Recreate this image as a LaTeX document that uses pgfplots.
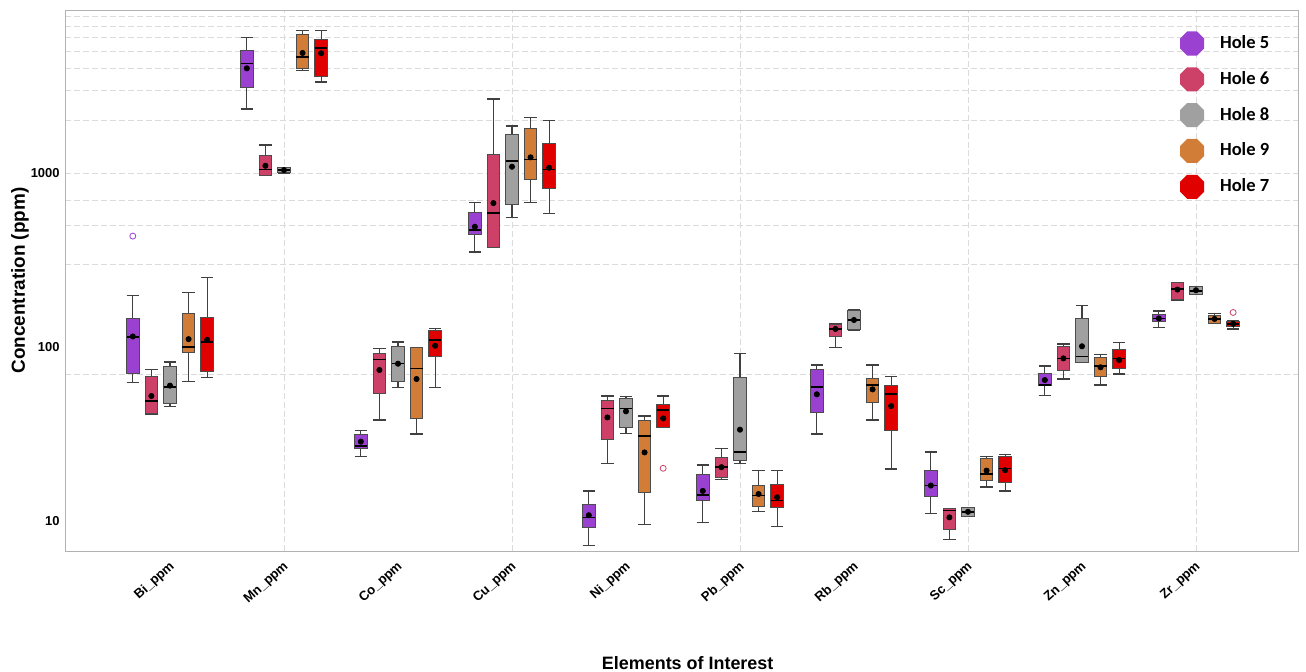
\documentclass[border=0pt]{standalone}
\usepackage{pgfplots}
\pgfplotsset{compat=1.18}
\usepackage{fontspec}
\setmainfont{Liberation Sans}
\newfontfamily\carlito{Carlito}

\definecolor{c5}{RGB}{155,65,210}
\definecolor{c6}{RGB}{205,65,105}
\definecolor{c8}{RGB}{160,160,160}
\definecolor{c9}{RGB}{210,125,55}
\definecolor{c7}{RGB}{225,0,0}

\pgfdeclareplotmark{octagon}{%
  \pgfpathmoveto{\pgfpointpolar{22.5}{\pgfplotmarksize}}%
  \pgfpathlineto{\pgfpointpolar{67.5}{\pgfplotmarksize}}%
  \pgfpathlineto{\pgfpointpolar{112.5}{\pgfplotmarksize}}%
  \pgfpathlineto{\pgfpointpolar{157.5}{\pgfplotmarksize}}%
  \pgfpathlineto{\pgfpointpolar{202.5}{\pgfplotmarksize}}%
  \pgfpathlineto{\pgfpointpolar{247.5}{\pgfplotmarksize}}%
  \pgfpathlineto{\pgfpointpolar{292.5}{\pgfplotmarksize}}%
  \pgfpathlineto{\pgfpointpolar{337.5}{\pgfplotmarksize}}%
  \pgfpathclose
  \pgfusepathqfill
}

\pgfplotsset{
  octlegend/.style={legend image code/.code={\draw[#1] plot coordinates {(0bp,0bp)};}},
  whisk/.style={forget plot, draw=black!75, line width=0.6pt, mark=none},
}

% #1 colour, #2 position, #3 lower whisker, #4 lower quartile, #5 median, #6 upper quartile, #7 upper whisker, #8 mean
\newcommand{\BX}[8]{%
  \pgfmathsetmacro\xl{#2-0.055}\pgfmathsetmacro\xr{#2+0.055}%
  \addplot[whisk] coordinates {(#2,#3) (#2,#4)};
  \addplot[whisk] coordinates {(#2,#6) (#2,#7)};
  \addplot[whisk] coordinates {(\xl,#3) (\xr,#3)};
  \addplot[whisk] coordinates {(\xl,#7) (\xr,#7)};
  \addplot[forget plot, mark=none, fill=#1, draw=black!70, line width=0.5pt] coordinates {(\xl,#4) (\xr,#4) (\xr,#6) (\xl,#6)} -- cycle;
  \addplot[forget plot, mark=none, draw=black, line width=0.8pt] coordinates {(\xl,#5) (\xr,#5)};
  \addplot[forget plot, only marks, mark=*, mark size=1.3bp, draw=black, fill=black] coordinates {(#2,#8)};
}

\begin{document}
\begin{tikzpicture}
\begin{axis}[
  width=616.5bp, height=270.5bp, scale only axis,
  xmin=-0.921, xmax=9.895, ymin=6.727, ymax=8648,
  ymode=log,
  ytick={10,100,1000}, yticklabels={10,100,1000},
  xtick={0,1,2,3,4,5,6,7,8,9},
  xticklabels={Bi\_ppm,Mn\_ppm,Co\_ppm,Cu\_ppm,Ni\_ppm,Pb\_ppm,Rb\_ppm,Sc\_ppm,Zn\_ppm,Zr\_ppm},
  minor xtick={1,3,5,7,9}, xminorgrids=true,
  minor ytick={70,300,500,700,1000,2000,3000,4000,5000,6000,7000,8000}, yminorgrids=true,
  minor grid style={black!14, dash pattern=on 3pt off 1.5pt, line width=0.35pt},
  major tick length=0pt, minor tick length=0pt,
  axis line style={black!30},
  yticklabel style={font=\bfseries\fontsize{6.5}{7}\selectfont, inner sep=0pt, xshift=-2.5bp},
  xticklabel style={font=\bfseries\fontsize{6.6}{8}\selectfont, rotate=42, anchor=east, inner sep=0pt, xshift=-3.5bp, yshift=-6bp},
  ylabel={Concentration (ppm)},
  xlabel={Elements of Interest},
  ylabel style={font=\bfseries\fontsize{9.5}{11}\selectfont, at={(axis description cs:-0.0365,0.5)}, anchor=center},
  xlabel style={font=\bfseries\fontsize{9}{11}\selectfont, at={(axis description cs:0.505,-0.207)}, anchor=center},
  legend style={at={(0.904,0.961)}, anchor=north west, draw=none, fill=none, inner sep=0pt, row sep=5.9bp,
    font=\carlito\bfseries\fontsize{9.3}{11}\selectfont,
    /tikz/every odd column/.append style={column sep=6bp}},
  legend cell align=left,
  clip=false,
]
\coordinate (SW) at (rel axis cs:0,0);
\coordinate (NE) at (rel axis cs:1,1);

\addlegendimage{octlegend, only marks, mark=octagon, mark size=6.5bp, fill=c5, draw=c5}
\addlegendentry{Hole 5}
\addlegendimage{octlegend, only marks, mark=octagon, mark size=6.5bp, fill=c6, draw=c6}
\addlegendentry{Hole 6}
\addlegendimage{octlegend, only marks, mark=octagon, mark size=6.5bp, fill=c8, draw=c8}
\addlegendentry{Hole 8}
\addlegendimage{octlegend, only marks, mark=octagon, mark size=6.5bp, fill=c9, draw=c9}
\addlegendentry{Hole 9}
\addlegendimage{octlegend, only marks, mark=octagon, mark size=6.5bp, fill=c7, draw=c7}
\addlegendentry{Hole 7}

% Bi
\BX{c5}{-0.326}{62.4}{70}{114}{145}{198}{115}
\BX{c6}{-0.163}{41.1}{41.6}{49.1}{68.1}{74.4}{52.3}
\BX{c8}{0}{45.4}{47.2}{59.1}{77.1}{82}{60}
\BX{c9}{0.163}{63.5}{93.6}{100.4}{156}{205}{111}
\BX{c7}{0.326}{67}{72.5}{107}{148}{251}{110}
% Mn
\BX{c5}{0.674}{2333}{3092}{4270}{5093}{6025}{3996}
\BX{c6}{0.837}{970}{974}{1050}{1268}{1449}{1101}
\BX{c8}{1}{1000}{1009}{1040}{1072}{1080}{1040}
\BX{c9}{1.163}{3872}{3996}{4660}{6268}{6576}{4897}
\BX{c7}{1.326}{3334}{3608}{5250}{5890}{6576}{4880}
% Co
\BX{c5}{1.674}{23.6}{26}{27}{31.6}{33.2}{28.6}
\BX{c6}{1.837}{38.1}{54.2}{85}{92}{98.3}{73.8}
\BX{c8}{2}{58.4}{63.2}{80.6}{100.4}{107}{80.2}
\BX{c9}{2.163}{31.6}{38.6}{75.4}{99.4}{99.6}{65.5}
\BX{c7}{2.326}{58.4}{88}{110}{124}{128}{101.7}
% Cu
\BX{c5}{2.674}{352}{446}{470}{597}{675}{491}
\BX{c6}{2.837}{374}{374}{587}{1286}{2662}{672}
\BX{c8}{3}{556}{663}{1177}{1675}{1862}{1087}
\BX{c9}{3.163}{675}{912}{1199}{1797}{2078}{1231}
\BX{c7}{3.326}{587}{812}{1050}{1482}{1999}{1072}
% Ni
\BX{c5}{3.674}{7.2}{9.15}{10.5}{12.4}{14.9}{10.8}
\BX{c6}{3.837}{21.5}{29.5}{44.4}{49.1}{52.3}{39.4}
\BX{c8}{4}{31.9}{34.4}{44.4}{50.7}{51.8}{42.7}
\BX{c9}{4.163}{9.6}{14.6}{30.8}{37.7}{40.1}{24.8}
\BX{c7}{4.326}{34.4}{34.4}{43.4}{47}{52.3}{38.9}
% Pb
\BX{c5}{4.674}{9.8}{13.2}{14.1}{18.6}{21}{14.9}
\BX{c6}{4.837}{17.4}{17.7}{20.5}{23.2}{26.2}{20.4}
\BX{c8}{5}{21.5}{22.2}{25}{67}{91.5}{33.5}
\BX{c9}{5.163}{11.4}{12.1}{14}{15.96}{19.6}{14.3}
\BX{c7}{5.326}{9.3}{12}{13.1}{16.3}{19.6}{13.7}
% Rb
\BX{c5}{5.674}{31.6}{41.9}{59.1}{73.8}{78.8}{53.5}
\BX{c6}{5.837}{99.1}{114.6}{127}{135.6}{137}{127}
\BX{c8}{6}{125}{126}{143}{163}{164}{143}
\BX{c9}{6.163}{38.1}{47.9}{60.5}{66.1}{78.8}{57.1}
\BX{c7}{6.326}{19.9}{33}{53.7}{60.5}{67.5}{45.8}
% Sc
\BX{c5}{6.674}{11.0}{13.9}{16.0}{19.4}{24.9}{16.0}
\BX{c6}{6.837}{7.85}{9.0}{11.5}{11.8}{11.8}{10.5}
\BX{c8}{7}{10.6}{10.6}{11.3}{12}{12}{11.3}
\BX{c9}{7.163}{15.7}{17.0}{18.6}{22.9}{23.6}{19.5}
\BX{c7}{7.326}{14.9}{16.6}{20}{23.4}{24.2}{19.6}
% Zn
\BX{c5}{7.674}{52.5}{60}{60.5}{70.6}{77.8}{64.6}
\BX{c6}{7.837}{65.5}{73.1}{86}{100.4}{104}{86.1}
\BX{c8}{8}{81.7}{81.7}{88}{146}{173}{101}
\BX{c9}{8.163}{60.5}{67.5}{77.8}{87.3}{90.8}{76.5}
\BX{c7}{8.326}{70}{75.4}{86}{97.4}{106}{84.2}
% Zr
\BX{c5}{8.674}{130}{140}{146}{154}{161}{146}
\BX{c6}{8.837}{185}{188}{215}{235}{235}{214}
\BX{c8}{9}{201}{201}{210}{222}{222}{212}
\BX{c9}{9.163}{137}{137}{145}{151}{156}{145}
\BX{c7}{9.326}{127}{131}{136}{141}{141}{136}

% outliers
\addplot[forget plot, only marks, mark=o, mark size=1.5bp, draw=c5, line width=0.4pt] coordinates {(-0.326,434)};
\addplot[forget plot, only marks, mark=o, mark size=1.5bp, draw=c6, line width=0.4pt] coordinates {(4.326,20.1)};
\addplot[forget plot, only marks, mark=o, mark size=1.5bp, draw=c6, line width=0.4pt] coordinates {(9.326,158)};
\end{axis}
\pgfresetboundingbox
\path[use as bounding box] ([shift={(-32.5bp,-60.5bp)}]SW) rectangle ([shift={(4bp,5bp)}]NE);
\end{tikzpicture}
\end{document}
